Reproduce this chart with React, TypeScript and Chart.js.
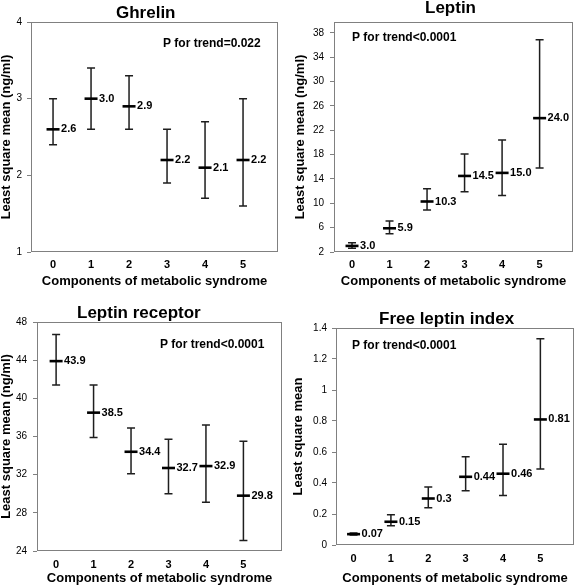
import React, { useEffect, useRef } from "react";
import { Chart, registerables } from "chart.js";
Chart.register(...registerables);

// ---------- data ----------
const categories = [0, 1, 2, 3, 4, 5];
const categoryLabels = ["0", "1", "2", "3", "4", "5"];

const ghrelinMean = [2.6, 3.0, 2.9, 2.2, 2.1, 2.2];
const ghrelinLow = [2.4, 2.6, 2.6, 1.9, 1.7, 1.6];
const ghrelinHigh = [3.0, 3.4, 3.3, 2.6, 2.7, 3.0];
const ghrelinTicks = [1, 2, 3, 4];

const leptinMean = [3.0, 5.9, 10.3, 14.5, 15.0, 24.0];
const leptinLow = [2.6, 5.0, 8.9, 11.9, 11.3, 15.8];
const leptinHigh = [3.5, 7.1, 12.4, 18.1, 20.4, 36.9];
const leptinTicks = [2, 6, 10, 14, 18, 22, 26, 30, 34, 38];

const receptorMean = [43.9, 38.5, 34.4, 32.7, 32.9, 29.8];
const receptorLow = [41.4, 35.9, 32.1, 30.0, 29.1, 25.1];
const receptorHigh = [46.7, 41.4, 36.9, 35.7, 37.2, 35.5];
const receptorTicks = [24, 28, 32, 36, 40, 44, 48];

const fliMean = [0.07, 0.15, 0.3, 0.44, 0.46, 0.81];
const fliLow = [0.064, 0.125, 0.24, 0.35, 0.32, 0.49];
const fliHigh = [0.078, 0.195, 0.375, 0.57, 0.65, 1.33];
const fliTicks = [0, 0.2, 0.4, 0.6, 0.8, 1, 1.2, 1.4];

const xTitle = "Components of metabolic syndrome";

// ---------- panel configs ----------
type PanelCfg = {
  title: string; ptext: string; yTitle: string;
  mean: number[]; low: number[]; high: number[]; ticks: number[];
  yMin: number; yMax: number; xMin: number; xMax: number;
  fmt: (v: number) => string;
  left: number; top: number;
  padTop: number; padRight: number; yWidth: number; xHeight: number;
  yTitlePad: number; xTitlePad: number; xTickPad: number; yTickPad: number;
  titleX: number; titleY: number; pX: number; pY: number;
};

const one = (v: number) => v.toFixed(1);

const panels: PanelCfg[] = [
  {
    title: "Ghrelin", ptext: "P for trend=0.022", yTitle: "Least square mean (ng/ml)",
    mean: ghrelinMean, low: ghrelinLow, high: ghrelinHigh, ticks: ghrelinTicks,
    yMin: 1, yMax: 4, xMin: -0.58, xMax: 5.92, fmt: one,
    left: 0, top: 0, padTop: 22, padRight: 9, yWidth: 31, xHeight: 41,
    yTitlePad: 0, xTitlePad: 5, xTickPad: 6, yTickPad: 5,
    titleX: 116, titleY: 18.3, pX: 163, pY: 46.7,
  },
  {
    title: "Leptin", ptext: "P for trend<0.0001", yTitle: "Least square mean (ng/ml)",
    mean: leptinMean, low: leptinLow, high: leptinHigh, ticks: leptinTicks,
    yMin: 2, yMax: 39.8, xMin: -0.48, xMax: 5.89, fmt: one,
    left: 287, top: 0, padTop: 22, padRight: 1, yWidth: 47, xHeight: 41,
    yTitlePad: 7, xTitlePad: 5.5, xTickPad: 6, yTickPad: 6,
    titleX: 138, titleY: 13.3, pX: 65, pY: 40.7,
  },
  {
    title: "Leptin receptor", ptext: "P for trend<0.0001", yTitle: "Least square mean (ng/ml)",
    mean: receptorMean, low: receptorLow, high: receptorHigh, ticks: receptorTicks,
    yMin: 24, yMax: 48, xMin: -0.51, xMax: 6.03, fmt: one,
    left: 0, top: 293, padTop: 29, padRight: 5, yWidth: 37, xHeight: 35,
    yTitlePad: 0, xTitlePad: 1.5, xTickPad: 7, yTickPad: 6,
    titleX: 77, titleY: 25, pX: 160, pY: 55,
  },
  {
    title: "Free leptin index", ptext: "P for trend<0.0001", yTitle: "Least square mean",
    mean: fliMean, low: fliLow, high: fliHigh, ticks: fliTicks,
    yMin: 0, yMax: 1.4, xMin: -0.47, xMax: 5.9, fmt: (v) => String(v),
    left: 287, top: 293, padTop: 35, padRight: 0, yWidth: 49, xHeight: 41,
    yTitlePad: 5, xTitlePad: 1.5, xTickPad: 7, yTickPad: 5,
    titleX: 92, titleY: 30.7, pX: 65, pY: 56,
  },
];

const SANS = "'Liberation Sans', Arial, Helvetica, sans-serif";
const NARROW = "'Liberation Sans Narrow', 'Liberation Sans', Arial, sans-serif";
const W = 287;
const H = 293;

function makePlugin(p: PanelCfg) {
  return {
    id: "panelExtras",
    beforeDatasetsDraw(chart: any) {
      const ctx = chart.ctx;
      const xs = chart.scales.x;
      const ys = chart.scales.y;
      ctx.save();
      ctx.strokeStyle = "#1e1e1e";
      ctx.lineWidth = 1.5;
      p.low.forEach((lo, i) => {
        const x = xs.getPixelForValue(categories[i]);
        const yl = ys.getPixelForValue(lo);
        const yh = ys.getPixelForValue(p.high[i]);
        ctx.beginPath();
        ctx.moveTo(x, yl);
        ctx.lineTo(x, yh);
        ctx.moveTo(x - 4, yl);
        ctx.lineTo(x + 4, yl);
        ctx.moveTo(x - 4, yh);
        ctx.lineTo(x + 4, yh);
        ctx.stroke();
      });
      ctx.restore();
    },
    afterDatasetsDraw(chart: any) {
      const ctx = chart.ctx;
      const xs = chart.scales.x;
      const ys = chart.scales.y;
      ctx.save();
      ctx.fillStyle = "#000";
      ctx.font = `bold 11px ${SANS}`;
      ctx.textBaseline = "middle";
      ctx.textAlign = "left";
      p.mean.forEach((v, i) => {
        const x = xs.getPixelForValue(categories[i]);
        const y = ys.getPixelForValue(v);
        ctx.fillText(p.fmt(v), x + 8, y);
      });
      ctx.restore();
    },
    afterDraw(chart: any) {
      const ctx = chart.ctx;
      const a = chart.chartArea;
      ctx.save();
      ctx.strokeStyle = "#808080";
      ctx.lineWidth = 1;
      const l = Math.round(a.left) + 0.5;
      const t = Math.round(a.top) + 0.5;
      const r = Math.round(a.right) - 0.5;
      const b = Math.round(a.bottom) - 0.5;
      ctx.strokeRect(l, t, r - l, b - t);
      ctx.fillStyle = "#000";
      ctx.textBaseline = "alphabetic";
      ctx.textAlign = "left";
      ctx.font = `bold 17px ${SANS}`;
      ctx.fillText(p.title, p.titleX, p.titleY);
      ctx.font = `bold 12px ${SANS}`;
      ctx.fillText(p.ptext, p.pX, p.pY);
      ctx.restore();
    },
  };
}

function Panel({ p }: { p: PanelCfg }) {
  const ref = useRef<HTMLCanvasElement>(null);
  useEffect(() => {
    if (!ref.current) return;
    const chart = new Chart(ref.current, {
      type: "scatter",
      data: {
        datasets: [
          {
            data: categories.map((c, i) => ({ x: c, y: p.mean[i] })),
            pointStyle: "line",
            pointRadius: 6.5,
            pointHoverRadius: 6.5,
            pointBorderWidth: 2.6,
            borderColor: "#000",
            backgroundColor: "#000",
            showLine: false,
          },
        ],
      },
      options: {
        animation: false,
        responsive: false,
        events: [],
        layout: {
          autoPadding: false,
          padding: { top: p.padTop, right: p.padRight, left: 0, bottom: 0 },
        },
        plugins: {
          legend: { display: false },
          tooltip: { enabled: false },
          title: { display: false },
        },
        scales: {
          x: {
            type: "linear",
            position: "bottom",
            min: p.xMin,
            max: p.xMax,
            afterBuildTicks: (s: any) => {
              s.ticks = categories.map((v) => ({ value: v }));
            },
            afterFit: (s: any) => {
              s.height = p.xHeight;
            },
            grid: { display: false, drawTicks: false, tickLength: 0 },
            border: { display: false },
            ticks: {
              padding: p.xTickPad,
              color: "#000",
              font: { family: SANS, size: 11, weight: "bold" },
              maxRotation: 0,
              autoSkip: false,
              callback: (v: any) => categoryLabels[categories.indexOf(Number(v))] ?? "",
            },
            title: {
              display: true,
              text: xTitle,
              color: "#000",
              font: { family: SANS, size: 13, weight: "bold", lineHeight: 1 },
              padding: { top: 0, bottom: p.xTitlePad },
            },
          },
          y: {
            type: "linear",
            position: "left",
            min: p.yMin,
            max: p.yMax,
            afterBuildTicks: (s: any) => {
              s.ticks = p.ticks.map((v) => ({ value: v }));
            },
            afterFit: (s: any) => {
              s.width = p.yWidth;
            },
            grid: {
              display: true,
              drawOnChartArea: false,
              drawTicks: true,
              tickLength: 4,
              color: "#808080",
              lineWidth: 1,
            },
            border: { display: false },
            ticks: {
              padding: p.yTickPad,
              color: "#000",
              font: { family: NARROW, size: 10 },
              autoSkip: false,
              callback: (v: any) => String(v),
            },
            title: {
              display: true,
              text: p.yTitle,
              color: "#000",
              font: { family: SANS, size: 13, weight: "bold", lineHeight: 1 },
              padding: { top: p.yTitlePad, bottom: 0 },
            },
          },
        },
      },
      plugins: [makePlugin(p)],
    } as any);
    return () => chart.destroy();
  }, [p]);
  return (
    <canvas
      ref={ref}
      width={W}
      height={H}
      style={{ position: "absolute", left: p.left, top: p.top, width: W, height: H }}
    />
  );
}

export default function App() {
  return (
    <div style={{ position: "absolute", left: 0, top: 0, width: 574, height: 586, background: "#fff" }}>
      {panels.map((p) => (
        <Panel key={p.title} p={p} />
      ))}
    </div>
  );
}
